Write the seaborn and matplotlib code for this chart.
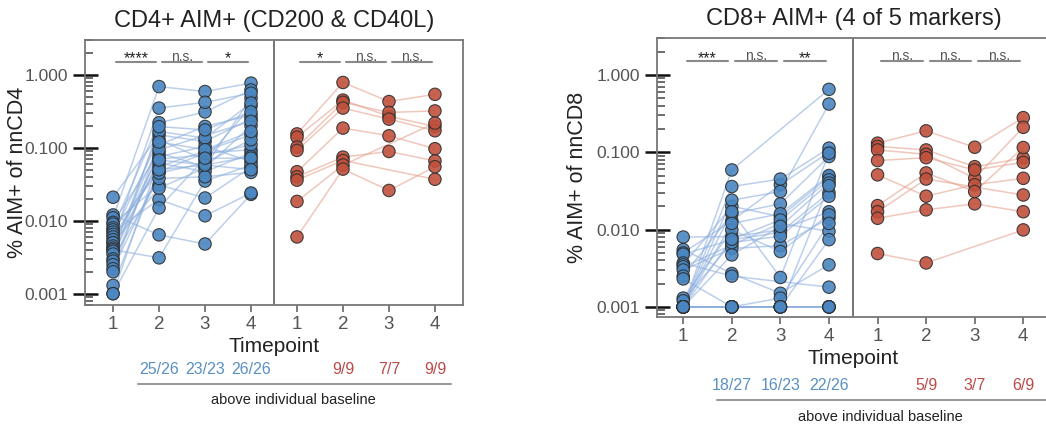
import numpy as np
import pandas as pd
import matplotlib
matplotlib.use("Agg")
import matplotlib.pyplot as plt
import seaborn as sns
from matplotlib.transforms import blended_transform_factory
from matplotlib.ticker import LogLocator, NullFormatter

nan = np.nan
timepoints = [1, 2, 3, 4]
tick_labels = ["1", "2", "3", "4"]

# ---------------- CD4 panel ----------------
cd4_blue_t1 = [0.021, 0.012, 0.011, 0.0095, 0.009, 0.008, 0.0075, 0.007, 0.0065, 0.006, 0.0055, 0.005, 0.005,
               0.0045, 0.0042, 0.004, 0.0038, 0.0035, 0.003, 0.0028, 0.0025, 0.0022, 0.002, 0.0013, 0.001, 0.001]
cd4_blue_t2 = [0.15, 0.0064, 0.69, 0.085, 0.031, 0.22, 0.047, 0.0195, 0.129, 0.055, 0.35, 0.076, 0.028,
               0.11, 0.062, 0.0031, 0.167, 0.07, 0.038, 0.195, 0.094, 0.045, 0.12, 0.05, 0.015, 0.068]
cd4_blue_t3 = [0.122, 0.0048, 0.59, 0.055, 0.0205, 0.31, 0.085, 0.0117, 0.068, nan, 0.42, 0.104, 0.053,
               0.196, 0.047, 0.035, 0.136, 0.080, 0.040, 0.176, nan, 0.062, 0.094, 0.058, 0.072, nan]
cd4_blue_t4 = [0.25, 0.023, 0.77, 0.48, 0.054, 0.62, 0.094, 0.024, 0.37, 0.15, 0.56, 0.065, 0.2,
               0.28, 0.085, 0.058, 0.41, 0.11, 0.046, 0.31, 0.23, 0.129, 0.167, 0.076, 0.072, 0.05]
cd4_red_t1 = [0.155, 0.14, 0.102, 0.092, 0.047, 0.040, 0.036, 0.0184, 0.006]
cd4_red_t2 = [0.785, 0.45, 0.42, 0.35, 0.186, 0.0745, 0.067, 0.058, 0.051]
cd4_red_t3 = [0.43, 0.27, 0.305, 0.247, 0.146, 0.089, nan, nan, 0.026]
cd4_red_t4 = [0.54, 0.196, 0.32, 0.171, 0.097, 0.066, 0.037, 0.218, 0.055]
cd4_sig = ["****", "n.s.", "*", "*", "n.s.", "n.s."]
cd4_fracs = ["25/26", "23/23", "26/26", "9/9", "7/7", "9/9"]

# ---------------- CD8 panel ----------------
cd8_blue_t1 = [0.008, 0.0055, 0.005, 0.0048, 0.0037, 0.0035, 0.0033, 0.003, 0.0025, 0.0023, 0.0013, 0.0012,
               0.001, 0.001, 0.001, 0.001, 0.001, 0.001, 0.001, 0.001, 0.001, 0.001, 0.001, 0.001, 0.001, 0.001, 0.001]
cd8_blue_t2 = [0.0081, 0.0027, 0.013, 0.0074, 0.0025, 0.02, 0.0063, 0.0057, 0.016, 0.001, 0.0099, 0.0068,
               0.059, 0.036, 0.024, 0.017, 0.012, 0.0075, 0.0047, 0.001, 0.001, 0.001, 0.001, 0.001, 0.001, 0.001, 0.001]
cd8_blue_t3 = [0.0099, 0.0015, 0.038, 0.0092, nan, 0.0147, 0.012, 0.0062, 0.0215, 0.001, 0.0052, 0.0082,
               nan, 0.045, 0.031, 0.0024, 0.016, 0.0133, 0.011, 0.001, 0.0013, 0.001, 0.001, 0.001, nan, nan, 0.001]
cd8_blue_t4 = [0.017, 0.0035, 0.1, 0.03, 0.0018, 0.048, 0.0095, 0.014, 0.088, 0.001, 0.0155, 0.027,
               0.65, 0.113, 0.42, 0.097, 0.05, 0.044, 0.04, 0.037, 0.012, 0.0074, 0.001, 0.001, 0.001, 0.001, nan]
cd8_red_t1 = [0.131, 0.119, 0.107, 0.078, 0.051, 0.0204, 0.017, 0.014, 0.0049]
cd8_red_t2 = [0.189, 0.107, 0.094, 0.085, 0.027, 0.054, 0.045, 0.018, 0.0037]
cd8_red_t3 = [0.116, 0.065, 0.046, 0.059, 0.038, 0.031, nan, 0.0215, nan]
cd8_red_t4 = [0.28, 0.084, 0.21, 0.074, 0.046, 0.115, 0.028, 0.017, 0.0099]
cd8_sig = ["***", "n.s.", "**", "n.s.", "n.s.", "n.s."]
cd8_fracs = ["18/27", "16/23", "22/26", "5/9", "3/7", "6/9"]

BLUE_PT, RED_PT = "#4a86c0", "#c0513c"
BLUE_LN, RED_LN = "#8fb0de", "#e6a28f"
BLUE_TX, RED_TX = "#5a90c2", "#bb4a48"


def build(blue, red):
    rows = []
    for gname, series, offset in (("blue", blue, 0), ("red", red, 4)):
        for ti, vals in enumerate(series):
            for si, v in enumerate(vals):
                rows.append(dict(subject=f"{gname}{si}", group=gname, tp=timepoints[ti],
                                 pos=ti + offset, value=v))
    return pd.DataFrame(rows).dropna()


sns.set_style("white")
plt.rcParams["font.family"] = ["Liberation Sans", "DejaVu Sans"]

fig = plt.figure(figsize=(10.46, 4.26), dpi=100)
ax1 = fig.add_axes([85 / 1046, 1 - 305 / 426, 378 / 1046, 265 / 426])
ax2 = fig.add_axes([657 / 1046, 1 - 317 / 426, 393 / 1046, 279 / 426])

panels = [
    (ax1, build([cd4_blue_t1, cd4_blue_t2, cd4_blue_t3, cd4_blue_t4],
                [cd4_red_t1, cd4_red_t2, cd4_red_t3, cd4_red_t4]),
     "CD4+ AIM+ (CD200 & CD40L)", "% AIM+ of nnCD4", cd4_sig, cd4_fracs,
     (-0.61, 7.61), (0.0007, 3.0), (0.54, 7.35), 3.93, -0.151),
    (ax2, build([cd8_blue_t1, cd8_blue_t2, cd8_blue_t3, cd8_blue_t4],
                [cd8_red_t1, cd8_red_t2, cd8_red_t3, cd8_red_t4]),
     "CD8+ AIM+ (4 of 5 markers)", "% AIM+ of nnCD8", cd8_sig, cd8_fracs,
     (-0.54, 7.55), (0.00074, 3.0), (0.70, 7.6), 4.05, -0.176),
]

for ax, df, title, ylabel, sig, fracs, xlim, ylim, line_x, mid, ylab_x in panels:
    ax.set_yscale("log")
    sns.lineplot(data=df, x="pos", y="value", units="subject", estimator=None, hue="group",
                 palette={"blue": BLUE_LN, "red": RED_LN}, legend=False, lw=1.1, alpha=0.6, ax=ax)
    sns.scatterplot(data=df, x="pos", y="value", hue="group",
                    palette={"blue": BLUE_PT, "red": RED_PT}, s=80, edgecolor="#2e2e2e",
                    linewidth=0.8, alpha=0.9, legend=False, ax=ax, zorder=3)
    ax.set_xlim(*xlim)
    ax.set_ylim(*ylim)
    ax.axvline(3.5, color="#6a6a6a", lw=1.3)
    ax.set_xticks(range(8))
    ax.set_xticklabels(tick_labels * 2)
    ax.set_yticks([0.001, 0.01, 0.1, 1.0])
    ax.set_yticklabels(["0.001", "0.010", "0.100", "1.000"])
    ax.yaxis.set_minor_locator(LogLocator(base=10, subs=np.arange(2, 10) * 1.0, numticks=20))
    ax.yaxis.set_minor_formatter(NullFormatter())
    ax.tick_params(axis="y", which="both", left=True)
    ax.tick_params(axis="x", which="major", bottom=True)
    ax.tick_params(axis="y", which="major", direction="inout", length=18, width=1.8,
                   color="#111111", labelsize=12.5, labelcolor="#555555", pad=3)
    ax.tick_params(axis="y", which="minor", direction="in", length=6, width=1.1, color="#444444")
    ax.tick_params(axis="x", which="major", direction="out", length=5, width=1.2,
                   color="#666666", labelsize=13.5, labelcolor="#555555", pad=3)
    for sp in ax.spines.values():
        sp.set_color("#777777")
        sp.set_linewidth(1.3)
    ax.set_xlabel("Timepoint", fontsize=15, color="#222222", labelpad=3)
    ax.set_ylabel(ylabel, fontsize=15.5, color="#222222")
    ax.yaxis.set_label_coords(ylab_x, 0.5)
    ax.set_title(title, fontsize=17, color="#222222", pad=9)

    pairs = [(0, 1), (1, 2), (2, 3), (4, 5), (5, 6), (6, 7)]
    for (a, b), lab in zip(pairs, sig):
        ax.plot([a + 0.07, b - 0.07], [1.5, 1.5], color="#8a8a8a", lw=1.5, clip_on=False)
        if lab == "n.s.":
            ax.text((a + b) / 2, 1.56, lab, ha="center", va="baseline", fontsize=10,
                    color="#555555")
        else:
            ax.text((a + b) / 2, 1.44, lab, ha="center", va="baseline", fontsize=11.5,
                    color="#222222")

    trans = blended_transform_factory(ax.transData, ax.transAxes)
    for xp, lab in zip([1, 2, 3, 5, 6, 7], fracs):
        ax.text(xp, -0.245, lab, transform=trans, ha="center", va="center", fontsize=11.5,
                color=BLUE_TX if xp < 4 else RED_TX)
    ax.plot(line_x, [-0.297, -0.297], transform=trans, color="#9a9a9a", lw=1.5, clip_on=False)
    ax.text(mid, -0.357, "above individual baseline", transform=trans, ha="center",
            va="center", fontsize=10.5, color="#222222")

fig.savefig("out.png", dpi=100)
